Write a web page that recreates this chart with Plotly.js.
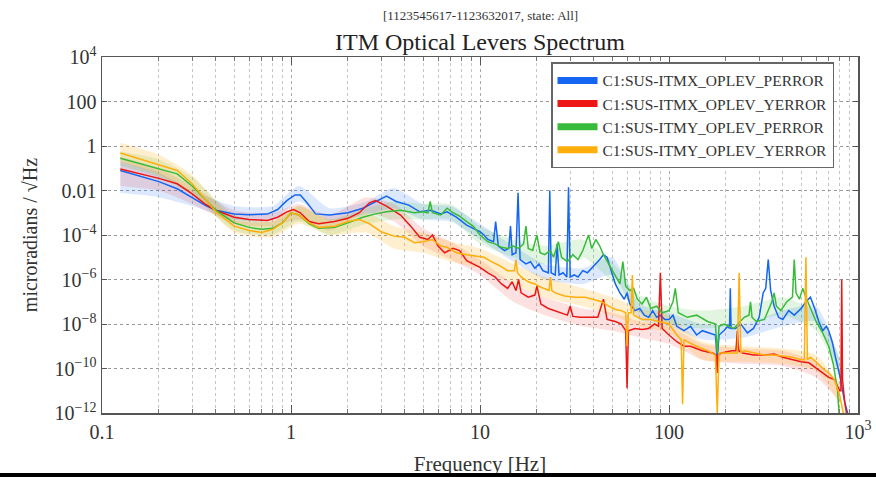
<!DOCTYPE html>
<html>
<head>
<meta charset="utf-8">
<script src="https://cdn.plot.ly/plotly-3.0.1.min.js"></script>
<style>
  html, body { margin: 0; padding: 0; background: #fff; }
  #wrap { position: relative; width: 876px; height: 477px; overflow: hidden; }
  #chart { width: 876px; height: 477px; }
  #bar { position: absolute; left: 0; top: 473px; width: 876px; height: 4px; background: #000; }
</style>
</head>
<body>
<div id="wrap"><div id="chart"></div><div id="bar"></div></div>
<script>
// ---------------- data ----------------
const seriesNames = [
  "C1:SUS-ITMX_OPLEV_PERROR",
  "C1:SUS-ITMX_OPLEV_YERROR",
  "C1:SUS-ITMY_OPLEV_PERROR",
  "C1:SUS-ITMY_OPLEV_YERROR"
];

// ITMX PERROR (blue)
const freqXP = [0.125,0.16,0.2,0.25,0.3,0.35,0.4,0.5,0.6,0.75,0.85,0.95,1.05,1.12,1.2,1.35,1.6,2.0,2.4,2.8,3.2,3.6,4.2,4.8,5.5,6.2,6.7,7.5,8.5,9.2,
  10,10.5,11,11.8,12.1,12.5,13.5,14.2,14.5,14.8,15.5,15.9,16.3,17.5,18.5,19.5,20.5,21.5,23.0,23.4,23.8,25.0,25.6,26.2,27.5,28.8,29.4,30.0,31.5,33,35,37,40,43,45,47,49,52,55,58,60,62,66,70,74,78,82,86,90,95,
  100,105,110,120,130,140,150,165,176,180,184,195,205,209,211,213,225,240,260,280,300,315,325,335,345,360,380,400,430,460,500,530,560,590,620,650,680,700,730,760,800,850,900];
const valXP  = [7.9e-2,4.5e-2,2.5e-2,1.2e-2,5.0e-3,2.2e-3,1.3e-3,8.9e-4,8.1e-4,8.7e-4,1.4e-3,3.5e-3,6.3e-3,6.3e-3,3.2e-3,8.9e-4,7.9e-4,1.0e-3,1.6e-3,3.2e-3,5.6e-3,3.2e-3,2.2e-3,1.1e-3,1.3e-3,8.9e-4,1.1e-3,6.3e-4,2.8e-4,2.0e-4,
  1.4e-4,1.0e-4,6.3e-5,5.0e-5,4.0e-4,3.2e-5,2.0e-5,2.5e-5,2.5e-4,1.3e-5,1.6e-5,7.9e-3,7.9e-6,5.0e-6,6.3e-6,3.2e-6,5.0e-6,2.5e-6,2.0e-6,1.0e-2,2.0e-6,1.6e-6,4.0e-5,1.6e-6,2.0e-6,1.3e-6,1.4e-2,1.3e-6,1.6e-6,1.3e-6,2.5e-6,2.0e-6,4.0e-6,7.9e-6,1.3e-5,1.0e-5,3.2e-6,6.3e-7,2.5e-7,1.3e-7,2.5e-7,7.9e-8,4.0e-8,5.0e-8,2.5e-8,2.0e-8,4.0e-8,2.0e-8,2.5e-8,1.6e-8,
  1.6e-8,2.5e-8,7.9e-9,5.0e-9,7.9e-9,3.2e-9,5.0e-9,4.0e-9,3.2e-9,2.5e-10,3.2e-9,5.0e-9,7.9e-9,6.3e-9,4.0e-7,6.3e-9,6.3e-9,1.0e-8,4.0e-9,6.3e-9,2.0e-8,2.5e-7,4.0e-7,7.9e-6,3.2e-7,6.3e-8,2.0e-8,1.6e-8,4.0e-8,2.5e-8,5.0e-8,1.0e-7,1.6e-7,5.0e-8,1.3e-8,5.0e-9,7.9e-9,5.0e-9,1.6e-9,3.2e-10,5.0e-11,3.2e-12,5.0e-13];

// ITMX YERROR (red)
const freqXY = [0.125,0.16,0.2,0.25,0.3,0.35,0.4,0.5,0.6,0.75,0.85,0.95,1.03,1.12,1.25,1.4,1.7,2.0,2.3,2.6,2.8,3.2,3.8,4.3,4.8,5.3,5.6,6.0,6.5,7.2,7.8,8.5,9.3,
  10,11,12,13,14,14.8,15.5,16,16.5,18,19.5,20,21,23,25,27,29,30,31,34,38,42,45,47,52,56,59,60,61,66,72,78,84,88,90,92,
  100,110,120,130,150,170,178,180,182,190,215,226,230,234,245,280,320,360,400,450,500,550,600,650,700,750,800,812,820,828,850,880];
const valXY  = [9.3e-2,5.6e-2,3.5e-2,2.0e-2,7.1e-3,2.5e-3,1.3e-3,6.3e-4,5.0e-4,4.5e-4,6.3e-4,1.1e-3,1.4e-3,1.0e-3,4.0e-4,3.2e-4,4.0e-4,5.6e-4,1.0e-3,2.8e-3,3.5e-3,2.0e-3,7.9e-4,2.5e-4,7.9e-5,6.3e-5,1.0e-4,3.2e-5,1.6e-5,2.5e-5,2.0e-5,7.1e-6,5.0e-6,
  3.5e-6,2.0e-6,1.3e-6,6.3e-7,4.0e-7,7.9e-7,3.2e-7,1.0e-6,2.5e-7,1.6e-7,2.0e-7,5.0e-7,7.9e-8,5.0e-8,4.0e-8,3.2e-8,2.5e-8,6.3e-8,2.2e-8,2.0e-8,2.0e-8,2.0e-8,1.3e-7,1.6e-8,1.3e-8,1.0e-8,5.0e-9,1.3e-11,5.0e-9,6.3e-9,5.6e-9,6.3e-9,1.0e-8,7.9e-9,2.0e-6,6.3e-9,
  3.2e-9,1.6e-9,1.0e-9,1.0e-9,6.3e-10,5.0e-10,4.0e-10,6.3e-11,4.0e-10,5.0e-10,6.3e-10,6.3e-10,5.0e-9,6.3e-10,5.0e-10,4.0e-10,4.0e-10,4.5e-10,3.2e-10,2.5e-10,2.0e-10,1.8e-10,1.0e-10,6.3e-11,4.0e-11,3.2e-11,1.0e-11,1.0e-11,1.0e-6,3.2e-11,3.2e-12,5.0e-13];

// ITMY PERROR (green)
const freqYP = [0.125,0.16,0.2,0.25,0.3,0.35,0.4,0.5,0.6,0.7,0.8,0.9,1.0,1.1,1.25,1.4,1.7,2.0,2.4,2.8,3.2,3.8,4.5,5.0,5.3,5.45,5.6,6.2,6.7,7.2,7.8,8.5,9.2,
  10,11,12,13,14,15,16,17.0,17.5,18.0,19.0,20.0,20.8,22,23.5,24.5,26,27,29,31,33,35,37.5,39,41,43,45,48,52,55,57,59,62,65,68,72,76,80,86,92,
  100,105,108,112,125,140,160,176,180,184,195,220,250,265,270,275,290,320,350,360,370,390,420,450,460,470,490,510,530,560,600,650,700,740,780,800];
const valYP  = [2.8e-1,1.6e-1,1.0e-1,5.6e-2,1.6e-2,4.0e-3,1.3e-3,3.5e-4,2.2e-4,1.8e-4,2.0e-4,3.5e-4,1.0e-3,7.9e-4,3.2e-4,2.0e-4,2.2e-4,3.5e-4,6.3e-4,8.9e-4,1.1e-3,1.3e-3,1.0e-3,1.1e-3,1.0e-3,3.2e-3,1.0e-3,7.9e-4,1.6e-3,1.0e-3,7.1e-4,4.0e-4,2.5e-4,
  1.0e-4,5.0e-5,4.0e-5,2.8e-5,2.5e-5,3.2e-5,2.5e-5,4.0e-5,2.5e-4,2.5e-5,2.0e-5,1.0e-4,1.6e-5,1.3e-5,2.0e-5,1.0e-5,5.0e-5,1.0e-5,6.3e-6,1.3e-5,7.9e-6,2.0e-5,1.0e-4,2.5e-5,6.3e-5,3.2e-5,1.3e-5,5.0e-6,1.6e-6,6.3e-7,6.3e-6,5.0e-7,3.2e-7,4.0e-7,1.3e-7,7.9e-8,1.6e-7,5.0e-8,6.3e-8,3.2e-8,
  4.0e-8,1.0e-7,4.0e-7,3.2e-8,2.0e-8,2.5e-8,1.3e-8,1.0e-8,5.0e-10,7.9e-9,1.0e-8,6.3e-9,2.0e-8,2.5e-8,1.0e-7,2.0e-8,1.3e-8,1.6e-8,1.0e-7,2.5e-7,6.3e-8,4.0e-8,1.0e-7,1.6e-7,7.9e-6,2.5e-7,1.3e-7,4.0e-7,1.6e-7,5.0e-8,1.3e-8,4.0e-9,1.0e-9,1.6e-10,1.0e-11,3.2e-13];

// ITMY YERROR (orange)
const freqYY = [0.125,0.16,0.2,0.25,0.3,0.35,0.4,0.5,0.6,0.7,0.8,0.9,1.0,1.1,1.25,1.4,1.7,2.0,2.3,2.6,3.0,3.5,4.0,4.5,5.0,5.6,6.2,6.7,7.5,8.5,9.5,
  10.5,11.5,12.5,14,15.2,15.5,15.8,16.5,18,19.5,21,23.2,23.6,24.0,25,28,32,36,40,44,48,52,56,59,60,61,63,64,65,72,80,90,
  100,110,116,118,120,125,140,160,176,180,184,210,230,235,240,250,280,320,360,400,450,500,520,530,540,560,600,650,700,750,800,850];
const valYY  = [4.8e-1,2.5e-1,1.4e-1,7.9e-2,2.0e-2,4.0e-3,1.1e-3,2.5e-4,1.6e-4,1.3e-4,1.8e-4,3.5e-4,1.0e-3,7.9e-4,3.5e-4,2.2e-4,2.5e-4,4.0e-4,5.0e-4,3.2e-4,1.4e-4,8.9e-5,7.9e-5,4.5e-5,5.0e-5,6.3e-5,3.2e-5,2.8e-5,1.6e-5,1.3e-5,1.1e-5,
  1.0e-5,6.3e-6,4.5e-6,2.5e-6,2.5e-6,7.9e-6,2.0e-6,1.3e-6,7.9e-7,6.3e-7,4.5e-7,3.2e-7,1.3e-6,3.2e-7,2.5e-7,1.8e-7,1.6e-7,1.6e-7,1.3e-7,1.0e-7,6.3e-8,4.5e-8,4.0e-8,3.2e-8,1.0e-9,3.2e-8,3.2e-8,1.6e-6,2.5e-8,1.6e-8,1.6e-8,1.3e-8,
  1.0e-8,3.2e-9,2.0e-9,2.5e-12,2.0e-9,1.6e-9,1.0e-9,6.3e-10,4.0e-10,1.0e-12,5.0e-10,5.0e-10,5.0e-10,2.0e-6,5.0e-10,6.3e-10,5.0e-10,4.0e-10,4.0e-10,3.5e-10,3.2e-10,2.5e-10,2.5e-10,1.0e-5,2.5e-10,3.2e-10,2.0e-10,1.0e-10,6.3e-11,3.2e-11,6.3e-12,5.0e-13];

// shaded percentile bands (coarse)
const bandFreq = [0.125,0.2,0.3,0.5,0.8,1.1,1.6,2.5,3.5,5,7,10,15,22,35,50,70,100,150,250,400,600,800];
const bandLoXP = [7.9e-3,5.0e-3,2.0e-3,5.0e-4,5.0e-4,3.2e-3,4.5e-4,7.9e-4,1.6e-3,5.0e-4,4.0e-4,6.3e-5,6.3e-6,1.0e-6,6.3e-7,1.6e-6,1.6e-8,7.9e-9,2.0e-9,2.5e-9,7.9e-9,1.3e-8,4.0e-11];
const bandHiXP = [2.0e-1,6.3e-2,1.0e-2,2.0e-3,2.0e-3,1.6e-2,1.6e-3,3.2e-3,1.3e-2,2.5e-3,2.0e-3,3.2e-4,3.2e-5,5.0e-6,3.2e-6,1.0e-5,7.9e-8,3.2e-8,1.0e-8,1.0e-8,4.0e-8,6.3e-8,2.5e-10];
const bandLoXY = [1.6e-2,1.0e-2,2.5e-3,3.2e-4,2.5e-4,5.0e-4,1.6e-4,1.0e-3,4.0e-4,3.2e-5,7.9e-6,1.6e-6,1.0e-7,2.5e-8,7.9e-9,5.0e-9,2.5e-9,1.3e-9,2.5e-10,1.6e-10,1.3e-10,4.0e-11,3.2e-12];
const bandHiXY = [3.2e-1,1.0e-1,1.6e-2,1.3e-3,1.0e-3,2.5e-3,7.9e-4,5.0e-3,2.5e-3,2.0e-4,5.0e-5,7.9e-6,6.3e-7,1.6e-7,5.0e-8,3.2e-8,1.3e-8,7.9e-9,1.3e-9,7.9e-10,6.3e-10,2.0e-10,2.5e-11];
const bandLoYP = [1.3e-1,4.0e-2,6.3e-3,1.6e-4,1.0e-4,4.0e-4,1.0e-4,3.2e-4,5.0e-4,5.0e-4,5.0e-4,4.0e-5,1.0e-5,5.0e-6,1.0e-5,7.9e-7,3.2e-8,1.0e-8,6.3e-9,1.0e-8,2.5e-8,5.0e-9,3.2e-11];
const bandHiYP = [5.6e-1,2.5e-1,4.0e-2,7.9e-4,4.0e-4,2.0e-3,5.0e-4,1.6e-3,3.2e-3,2.5e-3,2.5e-3,2.5e-4,6.3e-5,3.2e-5,6.3e-5,6.3e-6,2.0e-7,6.3e-8,4.0e-8,6.3e-8,1.6e-7,3.2e-8,3.2e-10];
const bandLoYY = [2.0e-1,5.0e-2,7.9e-3,1.3e-4,7.9e-5,3.2e-4,1.0e-4,1.3e-4,2.5e-5,1.6e-5,6.3e-6,3.2e-6,6.3e-7,1.6e-7,6.3e-8,2.5e-8,7.9e-9,4.0e-9,2.5e-10,2.0e-10,1.6e-10,7.9e-11,2.5e-12];
const bandHiYY = [1.4e+0,4.0e-1,5.0e-2,5.0e-4,4.0e-4,2.0e-3,5.0e-4,1.0e-3,2.5e-4,1.3e-4,5.0e-5,2.5e-5,5.0e-6,1.3e-6,4.0e-7,1.6e-7,5.0e-8,2.5e-8,1.6e-9,1.0e-9,7.9e-10,4.0e-10,1.6e-11];

// axis tick labels
const xTickVals = [0.1, 1, 10, 100, 1000];
const xTickText = ["0.1", "1", "10", "100", "10<sup>3</sup>"];
const yTickVals = [1e4, 1e2, 1, 1e-2, 1e-4, 1e-6, 1e-8, 1e-10, 1e-12];
const yTickText = ["10<sup>4</sup>", "100", "1", "0.01", "10<sup>\u22124</sup>", "10<sup>\u22126</sup>", "10<sup>\u22128</sup>", "10<sup>\u221210</sup>", "10<sup>\u221212</sup>"];

// ---------------- styling ----------------
const lineColors = ["#1466f2", "#ee1515", "#38bb38", "#ffae0c"];
const fillColors = ["rgba(20,102,242,0.15)", "rgba(238,21,21,0.13)", "rgba(56,187,56,0.15)", "rgba(255,174,12,0.2)"];
const seriesFreq = [freqXP, freqXY, freqYP, freqYY];
const seriesVal = [valXP, valXY, valYP, valYY];
const bandsLo = [bandLoXP, bandLoXY, bandLoYP, bandLoYY];
const bandsHi = [bandHiXP, bandHiXY, bandHiYP, bandHiYY];

const FONT = "'Liberation Serif', 'Times New Roman', serif";
const traces = [];
for (let i = 0; i < 4; i++) {
  traces.push({ x: bandFreq, y: bandsHi[i], type: "scatter", mode: "lines",
    line: { width: 0, color: fillColors[i], shape: "spline", smoothing: 0.6 }, showlegend: false, hoverinfo: "skip" });
  traces.push({ x: bandFreq, y: bandsLo[i], type: "scatter", mode: "lines", fill: "tonexty",
    fillcolor: fillColors[i], line: { width: 0, color: fillColors[i], shape: "spline", smoothing: 0.6 }, showlegend: false, hoverinfo: "skip" });
}
for (let i = 0; i < 4; i++) {
  traces.push({ x: seriesFreq[i], y: seriesVal[i], type: "scatter", mode: "lines",
    line: { width: 1.5, color: lineColors[i] }, showlegend: false, name: seriesNames[i] });
}
for (let i = 0; i < 4; i++) {
  traces.push({ x: [null], y: [null], type: "scatter", mode: "lines",
    line: { width: 7, color: lineColors[i] }, name: seriesNames[i], showlegend: true });
}

const minorX = [];
for (const d of [0.1, 1, 10, 100]) for (let k = 2; k <= 9; k++) minorX.push(+(d * k).toPrecision(3));

const layout = {
  width: 876, height: 477,
  margin: { l: 102, r: 18, t: 57, b: 64, pad: 0 },
  paper_bgcolor: "#ffffff", plot_bgcolor: "#ffffff",
  font: { family: FONT, color: "#333" },
  showlegend: true,
  title: { text: "ITM Optical Levers Spectrum", font: { family: FONT, size: 24, color: "#222" },
    x: 0.5, xref: "paper", xanchor: "center", y: 1 - 42 / 477, yref: "container", yanchor: "middle" },
  annotations: [{ text: "[1123545617-1123632017, state: All]", xref: "paper", yref: "paper",
    x: 0.5, y: (412.7 - 15) / 356, xanchor: "center", yanchor: "middle", showarrow: false,
    font: { family: FONT, size: 13, color: "#333" } }],
  xaxis: {
    type: "log", range: [-1, 3], autorange: false,
    tickmode: "array", tickvals: xTickVals, ticktext: xTickText,
    ticks: "inside", ticklen: 8, tickwidth: 1, tickcolor: "#555",
    showline: true, linecolor: "#555", linewidth: 1.5, mirror: "allticks",
    showgrid: true, gridcolor: "#aaa", griddash: "dot", gridwidth: 1, zeroline: false,
    tickfont: { family: FONT, size: 20, color: "#333" },
    minor: { tickmode: "array", tickvals: minorX, ticks: "inside", ticklen: 4, tickcolor: "#777",
      showgrid: true, gridcolor: "#c4c4c4", griddash: "dot", gridwidth: 1 },
    title: { text: "Frequency [Hz]", font: { family: FONT, size: 21, color: "#333" }, standoff: 15 }
  },
  yaxis: {
    type: "log", range: [-12, 4], autorange: false,
    tickmode: "array", tickvals: yTickVals, ticktext: yTickText,
    ticks: "inside", ticklen: 5, tickwidth: 1, tickcolor: "#555",
    showline: true, linecolor: "#555", linewidth: 1.5, mirror: "allticks",
    showgrid: true, gridcolor: "#999", griddash: "dot", gridwidth: 1, zeroline: false,
    tickfont: { family: FONT, size: 20, color: "#333" },
    title: { text: "microradians / \u221AHz", font: { family: FONT, size: 20, color: "#333" }, standoff: 11 }
  },
  legend: {
    x: (551 - 102) / 756, y: (412.7 - 62) / 356, xanchor: "left", yanchor: "top",
    traceorder: "normal",
    bgcolor: "#ffffff", bordercolor: "#666", borderwidth: 1.5,
    font: { family: FONT, size: 15.5, color: "#333" }, itemwidth: 40, tracegroupgap: 0
  }
};

Plotly.newPlot("chart", traces, layout, { staticPlot: true, displayModeBar: false });
</script>
</body>
</html>
